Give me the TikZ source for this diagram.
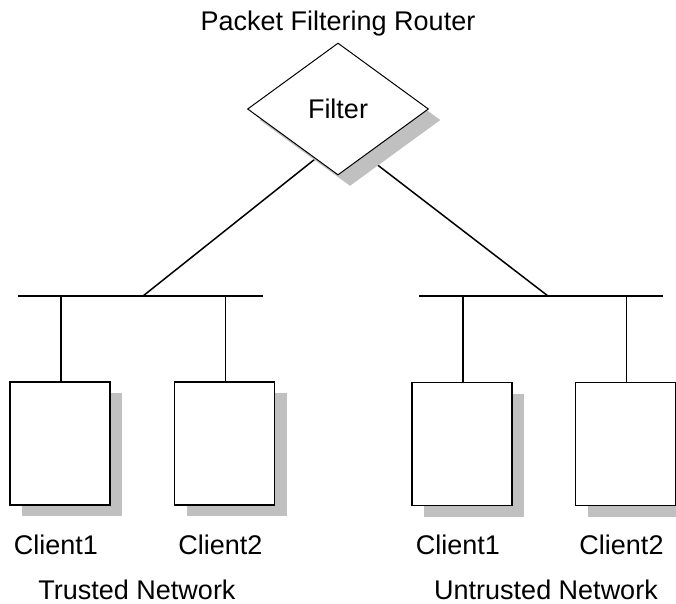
\documentclass[tikz,border=0pt]{standalone}
\usepackage{fontspec}
\setmainfont{Liberation Sans}
\usetikzlibrary{shapes.geometric,shadows,positioning,calc,backgrounds}
\definecolor{shadowgray}{RGB}{192,192,192}

\begin{document}
\begin{tikzpicture}[
    x=1pt, y=-1pt,
    line width=1.5pt,
    font=\fontsize{27}{32}\selectfont,
    dropgray/.style={general shadow={fill=shadowgray, draw=none, shadow xshift=12pt, shadow yshift=-11pt}},
    client/.style={draw, fill=white, dropgray, minimum width=100pt, minimum height=123pt, inner sep=0pt},
    tag/.style={inner sep=0pt},
    link/.style={line width=1.5pt},
]
\path[use as bounding box, clip] (0,0) rectangle (676,603);

% router
\node[diamond, draw, line width=1pt, fill=white, dropgray, aspect=1.37, minimum width=181pt, minimum height=132pt, inner sep=0pt] (flt) at (338,109) {Filter};
\node[tag, above=6pt of flt] (rtr) {Packet Filtering Router};

% the two segments
\coordinate (lbl) at (18,296);
\coordinate (lbr) at (263,296);
\coordinate (ltap) at (143,296);
\coordinate (rbl) at (419,296);
\coordinate (rbr) at (663,296);
\coordinate (rtap) at (548,296);
\draw[link] (lbl) -- (lbr);
\draw[link] (rbl) -- (rbr);

% clients
\node[client] (c1) at (60,443.5) {};
\node[client, right=63pt of c1] (c2) {};
\node[client] (c3) at (462,444) {};
\node[client, right=62pt of c3] (c4) {};
\foreach \c/\s in {c1/lbl, c2/lbl, c3/rbl, c4/rbl}
    \draw[link] ([xshift=1pt]\c.north) -- ([xshift=1pt]\c.north |- \s);

\node[tag, below=28pt of c1, xshift=-4pt] (n1) {Client1};
\node[tag, below=28pt of c2, xshift=-4pt] (n2) {Client2};
\node[tag, below=28pt of c3, xshift=-4pt] (n3) {Client1};
\node[tag, below=28pt of c4, xshift=-4pt] (n4) {Client2};

\node[tag, anchor=base] (tnet) at (137,599) {Trusted Network};
\node[tag, anchor=base] (unet) at (546,599) {Untrusted Network};

% uplinks behind the router
\begin{pgfonlayer}{background}
\draw[link] ($(flt.south)!0.25!(flt.west)$) -- (ltap);
\draw[link] ($(flt.south)!0.3!(flt.east)$) -- (rtap);
\end{pgfonlayer}
\end{tikzpicture}
\end{document}
